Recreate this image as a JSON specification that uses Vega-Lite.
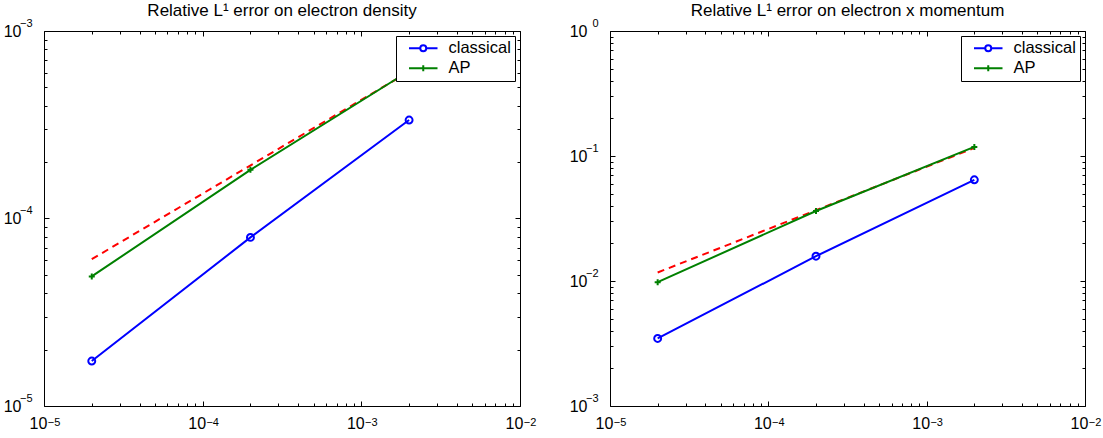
{
  "$schema": "https://vega.github.io/schema/vega-lite/v6.json",
  "background": "white",
  "padding": {"left": 2, "top": 1, "right": 2, "bottom": 2},
  "bounds": "flush",
  "spacing": 90,
  "config": {
    "view": {"stroke": "black", "strokeWidth": 1},
    "font": "Liberation Sans",
    "axis": {"domain": false, "grid": false, "labelFont": "Liberation Sans", "labelFontSize": 16, "labelColor": "black", "tickColor": "black", "tickWidth": 1, "labelFlush": false, "labelOverlap": false, "labelBound": false, "title": null},
    "title": {"font": "Liberation Sans", "fontSize": 17, "fontWeight": "normal", "color": "black", "anchor": "middle", "offset": -3},
    "legend": {"labelFont": "Liberation Sans", "labelFontSize": 16.5, "labelColor": "black"}
  },
  "data": {"values": [
    {"panel": "density", "series": "classical", "x": 2e-5, "y": 1.737e-5},
    {"panel": "density", "series": "classical", "x": 2e-4, "y": 7.93e-5},
    {"panel": "density", "series": "classical", "x": 2e-3, "y": 3.35e-4},
    {"panel": "density", "series": "AP", "x": 2e-5, "y": 4.91e-5},
    {"panel": "density", "series": "AP", "x": 2e-4, "y": 1.817e-4},
    {"panel": "density", "series": "AP", "x": 2e-3, "y": 6.12e-4},
    {"panel": "density", "series": "ref", "x": 2e-5, "y": 6.07e-5},
    {"panel": "density", "series": "ref", "x": 2e-3, "y": 6.07e-4},
    {"panel": "momentum", "series": "classical", "x": 2e-5, "y": 3.47e-3},
    {"panel": "momentum", "series": "classical", "x": 2e-4, "y": 1.579e-2},
    {"panel": "momentum", "series": "classical", "x": 2e-3, "y": 6.45e-2},
    {"panel": "momentum", "series": "AP", "x": 2e-5, "y": 9.79e-3},
    {"panel": "momentum", "series": "AP", "x": 2e-4, "y": 3.63e-2},
    {"panel": "momentum", "series": "AP", "x": 2e-3, "y": 0.1183},
    {"panel": "momentum", "series": "ref", "x": 2e-5, "y": 1.17e-2},
    {"panel": "momentum", "series": "ref", "x": 2e-3, "y": 0.116}
  ]},
  "hconcat": [
    {
      "width": 476, "height": 375,
      "title": {"text": "Relative L¹ error on electron density"},
      "transform": [{"filter": "datum.panel === 'density'"}],
      "layer": [
        {"mark": {"type": "point", "opacity": 0},
         "encoding": {
           "x": {"field": "x", "type": "quantitative", "scale": {"type": "log", "domain": [1e-5, 1e-2], "nice": false, "zero": false},
                 "axis": {"orient": "bottom", "values": [1e-5,2e-5,3e-5,4e-5,5e-5,6e-5,7e-5,8e-5,9e-5,1e-4,2e-4,3e-4,4e-4,5e-4,6e-4,7e-4,8e-4,9e-4,1e-3,2e-3,3e-3,4e-3,5e-3,6e-3,7e-3,8e-3,9e-3,1e-2],
                   "tickSize": {"condition": {"test": "abs(log(datum.value)/LN10 - round(log(datum.value)/LN10)) < 0.01", "value": -5}, "value": -3},
                   "labelPadding": 14, "labelOffset": -6,
                   "labelExpr": "abs(log(datum.value)/LN10 - round(log(datum.value)/LN10)) < 0.01 ? '10' : ''"}},
           "y": {"field": "y", "type": "quantitative", "scale": {"type": "log", "domain": [1e-5, 1e-3], "nice": false, "zero": false},
                 "axis": {"orient": "left", "values": [1e-5,2e-5,3e-5,4e-5,5e-5,6e-5,7e-5,8e-5,9e-5,1e-4,2e-4,3e-4,4e-4,5e-4,6e-4,7e-4,8e-4,9e-4,1e-3],
                   "tickSize": {"condition": {"test": "abs(log(datum.value)/LN10 - round(log(datum.value)/LN10)) < 0.01", "value": -5}, "value": -3},
                   "labelPadding": 28,
                   "labelExpr": "abs(log(datum.value)/LN10 - round(log(datum.value)/LN10)) < 0.01 ? '10' : ''"}}
         }},
        {"mark": {"type": "point", "opacity": 0},
         "encoding": {
           "x": {"field": "x", "type": "quantitative", "scale": {"type": "log", "domain": [1e-5, 1e-2], "nice": false, "zero": false},
                 "axis": {"orient": "top", "values": [1e-5,2e-5,3e-5,4e-5,5e-5,6e-5,7e-5,8e-5,9e-5,1e-4,2e-4,3e-4,4e-4,5e-4,6e-4,7e-4,8e-4,9e-4,1e-3,2e-3,3e-3,4e-3,5e-3,6e-3,7e-3,8e-3,9e-3,1e-2],
                   "tickSize": {"condition": {"test": "abs(log(datum.value)/LN10 - round(log(datum.value)/LN10)) < 0.01", "value": -5}, "value": -3},
                   "labels": false}},
           "y": {"field": "y", "type": "quantitative", "scale": {"type": "log", "domain": [1e-5, 1e-3], "nice": false, "zero": false},
                 "axis": {"orient": "right", "values": [1e-5,2e-5,3e-5,4e-5,5e-5,6e-5,7e-5,8e-5,9e-5,1e-4,2e-4,3e-4,4e-4,5e-4,6e-4,7e-4,8e-4,9e-4,1e-3],
                   "tickSize": {"condition": {"test": "abs(log(datum.value)/LN10 - round(log(datum.value)/LN10)) < 0.01", "value": -5}, "value": -3},
                   "labels": false}}
         }},
        {"mark": {"type": "point", "opacity": 0},
         "encoding": {
           "x": {"field": "x", "type": "quantitative", "scale": {"type": "log", "domain": [1e-5, 1e-2], "nice": false, "zero": false},
                 "axis": {"orient": "bottom", "values": [1e-5, 1e-4, 1e-3, 1e-2], "ticks": false, "labelFontSize": 11, "labelPadding": 10, "labelOffset": 9.5,
                   "labelExpr": "round(log(datum.value)/LN10) < 0 ? '−' + round(-log(datum.value)/LN10) : '' + round(log(datum.value)/LN10)"}},
           "y": {"field": "y", "type": "quantitative", "scale": {"type": "log", "domain": [1e-5, 1e-3], "nice": false, "zero": false},
                 "axis": {"orient": "left", "values": [1e-5, 1e-4, 1e-3], "ticks": false, "labelFontSize": 11, "labelPadding": 12, "labelOffset": -8,
                   "labelExpr": "round(log(datum.value)/LN10) < 0 ? '−' + round(-log(datum.value)/LN10) : '' + round(log(datum.value)/LN10)"}}
         }},
        {"transform": [{"filter": "datum.series === 'ref'"}],
         "mark": {"type": "line", "color": "#ff0000", "strokeWidth": 2, "strokeDash": [7, 5]},
         "encoding": {
           "x": {"field": "x", "type": "quantitative", "axis": null},
           "y": {"field": "y", "type": "quantitative", "axis": null}
         }},
        {"transform": [{"filter": "datum.series !== 'ref'"}],
         "mark": {"type": "line", "strokeWidth": 2},
         "encoding": {
           "x": {"field": "x", "type": "quantitative", "axis": null},
           "y": {"field": "y", "type": "quantitative", "axis": null},
           "color": {"field": "series", "type": "nominal", "scale": {"domain": ["classical", "AP"], "range": ["#0000ff", "#008000"]},
             "legend": {"title": null, "orient": "top-right", "offset": 5, "padding": 4, "fillColor": "white", "strokeColor": "black", "cornerRadius": 0, "symbolSize": 100, "symbolOffset": 15, "labelOffset": 17, "rowPadding": 3,
               "encode": {"symbols": {"update": {
                 "shape": {"signal": "datum.value === 'classical' ? 'M-2.85,0H-0.6A0.6,0.6 0 1,1 0.6,0A0.6,0.6 0 1,1 -0.6,0M0.6,0H2.85' : 'M-2.85,0H2.85M0,-0.6V0.6'"},
                 "fill": {"value": "transparent"},
                 "stroke": {"signal": "datum.value === 'classical' ? '#0000ff' : '#008000'"},
                 "strokeWidth": {"value": 2}}}}}}
         }},
        {"transform": [{"filter": "datum.series === 'classical'"}],
         "mark": {"type": "point", "shape": "circle", "filled": false, "color": "#0000ff", "size": 48, "strokeWidth": 2, "opacity": 1},
         "encoding": {
           "x": {"field": "x", "type": "quantitative", "axis": null},
           "y": {"field": "y", "type": "quantitative", "axis": null}
         }},
        {"transform": [{"filter": "datum.series === 'AP'"}],
         "mark": {"type": "point", "shape": "M-1,0H1M0,-1V1", "filled": false, "color": "#008000", "size": 36, "strokeWidth": 2, "opacity": 1},
         "encoding": {
           "x": {"field": "x", "type": "quantitative", "axis": null},
           "y": {"field": "y", "type": "quantitative", "axis": null}
         }}
      ],
      "resolve": {"axis": {"x": "independent", "y": "independent"}}
    },
    {
      "width": 475, "height": 375,
      "title": {"text": "Relative L¹ error on electron x momentum"},
      "transform": [{"filter": "datum.panel === 'momentum'"}],
      "layer": [
        {"mark": {"type": "point", "opacity": 0},
         "encoding": {
           "x": {"field": "x", "type": "quantitative", "scale": {"type": "log", "domain": [1e-5, 1e-2], "nice": false, "zero": false},
                 "axis": {"orient": "bottom", "values": [1e-5,2e-5,3e-5,4e-5,5e-5,6e-5,7e-5,8e-5,9e-5,1e-4,2e-4,3e-4,4e-4,5e-4,6e-4,7e-4,8e-4,9e-4,1e-3,2e-3,3e-3,4e-3,5e-3,6e-3,7e-3,8e-3,9e-3,1e-2],
                   "tickSize": {"condition": {"test": "abs(log(datum.value)/LN10 - round(log(datum.value)/LN10)) < 0.01", "value": -5}, "value": -3},
                   "labelPadding": 14, "labelOffset": -6,
                   "labelExpr": "abs(log(datum.value)/LN10 - round(log(datum.value)/LN10)) < 0.01 ? '10' : ''"}},
           "y": {"field": "y", "type": "quantitative", "scale": {"type": "log", "domain": [1e-3, 1], "nice": false, "zero": false},
                 "axis": {"orient": "left", "values": [1e-3,2e-3,3e-3,4e-3,5e-3,6e-3,7e-3,8e-3,9e-3,1e-2,2e-2,3e-2,4e-2,5e-2,6e-2,7e-2,8e-2,9e-2,0.1,0.2,0.3,0.4,0.5,0.6,0.7,0.8,0.9,1],
                   "tickSize": {"condition": {"test": "abs(log(datum.value)/LN10 - round(log(datum.value)/LN10)) < 0.01", "value": -5}, "value": -3},
                   "labelPadding": 28,
                   "labelExpr": "abs(log(datum.value)/LN10 - round(log(datum.value)/LN10)) < 0.01 ? '10' : ''"}}
         }},
        {"mark": {"type": "point", "opacity": 0},
         "encoding": {
           "x": {"field": "x", "type": "quantitative", "scale": {"type": "log", "domain": [1e-5, 1e-2], "nice": false, "zero": false},
                 "axis": {"orient": "top", "values": [1e-5,2e-5,3e-5,4e-5,5e-5,6e-5,7e-5,8e-5,9e-5,1e-4,2e-4,3e-4,4e-4,5e-4,6e-4,7e-4,8e-4,9e-4,1e-3,2e-3,3e-3,4e-3,5e-3,6e-3,7e-3,8e-3,9e-3,1e-2],
                   "tickSize": {"condition": {"test": "abs(log(datum.value)/LN10 - round(log(datum.value)/LN10)) < 0.01", "value": -5}, "value": -3},
                   "labels": false}},
           "y": {"field": "y", "type": "quantitative", "scale": {"type": "log", "domain": [1e-3, 1], "nice": false, "zero": false},
                 "axis": {"orient": "right", "values": [1e-3,2e-3,3e-3,4e-3,5e-3,6e-3,7e-3,8e-3,9e-3,1e-2,2e-2,3e-2,4e-2,5e-2,6e-2,7e-2,8e-2,9e-2,0.1,0.2,0.3,0.4,0.5,0.6,0.7,0.8,0.9,1],
                   "tickSize": {"condition": {"test": "abs(log(datum.value)/LN10 - round(log(datum.value)/LN10)) < 0.01", "value": -5}, "value": -3},
                   "labels": false}}
         }},
        {"mark": {"type": "point", "opacity": 0},
         "encoding": {
           "x": {"field": "x", "type": "quantitative", "scale": {"type": "log", "domain": [1e-5, 1e-2], "nice": false, "zero": false},
                 "axis": {"orient": "bottom", "values": [1e-5, 1e-4, 1e-3, 1e-2], "ticks": false, "labelFontSize": 11, "labelPadding": 10, "labelOffset": 9.5,
                   "labelExpr": "round(log(datum.value)/LN10) < 0 ? '−' + round(-log(datum.value)/LN10) : '' + round(log(datum.value)/LN10)"}},
           "y": {"field": "y", "type": "quantitative", "scale": {"type": "log", "domain": [1e-3, 1], "nice": false, "zero": false},
                 "axis": {"orient": "left", "values": [1e-3, 1e-2, 1e-1, 1], "ticks": false, "labelFontSize": 11, "labelPadding": 12, "labelOffset": -8,
                   "labelExpr": "round(log(datum.value)/LN10) < 0 ? '−' + round(-log(datum.value)/LN10) : '' + round(log(datum.value)/LN10)"}}
         }},
        {"transform": [{"filter": "datum.series === 'ref'"}],
         "mark": {"type": "line", "color": "#ff0000", "strokeWidth": 2, "strokeDash": [7, 5]},
         "encoding": {
           "x": {"field": "x", "type": "quantitative", "axis": null},
           "y": {"field": "y", "type": "quantitative", "axis": null}
         }},
        {"transform": [{"filter": "datum.series !== 'ref'"}],
         "mark": {"type": "line", "strokeWidth": 2},
         "encoding": {
           "x": {"field": "x", "type": "quantitative", "axis": null},
           "y": {"field": "y", "type": "quantitative", "axis": null},
           "color": {"field": "series", "type": "nominal", "scale": {"domain": ["classical", "AP"], "range": ["#0000ff", "#008000"]},
             "legend": {"title": null, "orient": "top-right", "offset": 5, "padding": 4, "fillColor": "white", "strokeColor": "black", "cornerRadius": 0, "symbolSize": 100, "symbolOffset": 15, "labelOffset": 17, "rowPadding": 3,
               "encode": {"symbols": {"update": {
                 "shape": {"signal": "datum.value === 'classical' ? 'M-2.85,0H-0.6A0.6,0.6 0 1,1 0.6,0A0.6,0.6 0 1,1 -0.6,0M0.6,0H2.85' : 'M-2.85,0H2.85M0,-0.6V0.6'"},
                 "fill": {"value": "transparent"},
                 "stroke": {"signal": "datum.value === 'classical' ? '#0000ff' : '#008000'"},
                 "strokeWidth": {"value": 2}}}}}}
         }},
        {"transform": [{"filter": "datum.series === 'classical'"}],
         "mark": {"type": "point", "shape": "circle", "filled": false, "color": "#0000ff", "size": 48, "strokeWidth": 2, "opacity": 1},
         "encoding": {
           "x": {"field": "x", "type": "quantitative", "axis": null},
           "y": {"field": "y", "type": "quantitative", "axis": null}
         }},
        {"transform": [{"filter": "datum.series === 'AP'"}],
         "mark": {"type": "point", "shape": "M-1,0H1M0,-1V1", "filled": false, "color": "#008000", "size": 36, "strokeWidth": 2, "opacity": 1},
         "encoding": {
           "x": {"field": "x", "type": "quantitative", "axis": null},
           "y": {"field": "y", "type": "quantitative", "axis": null}
         }}
      ],
      "resolve": {"axis": {"x": "independent", "y": "independent"}}
    }
  ],
  "resolve": {"legend": {"color": "independent"}}
}
